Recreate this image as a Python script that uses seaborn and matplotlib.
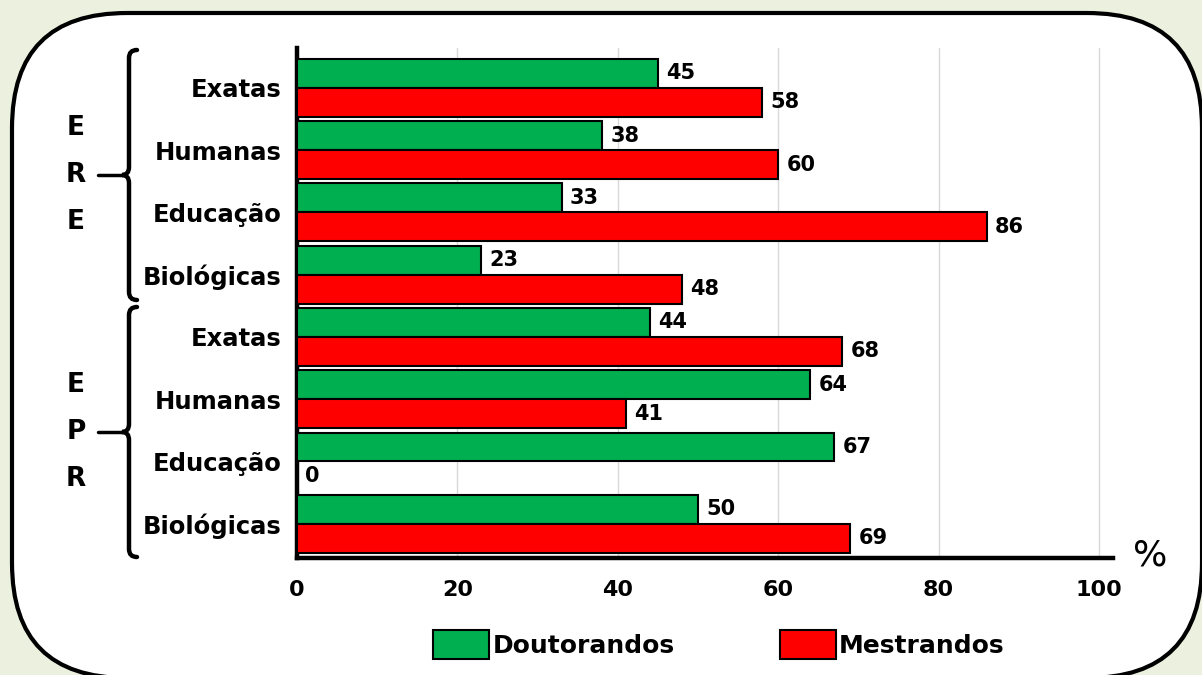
import numpy as np
import pandas as pd
import matplotlib
matplotlib.use("Agg")
import matplotlib.pyplot as plt
import seaborn as sns
from matplotlib.patches import FancyBboxPatch, PathPatch, Patch
from matplotlib.path import Path

# data
areas = ["Exatas", "Humanas", "Educação", "Biológicas",
         "Exatas", "Humanas", "Educação", "Biológicas"]
blocos = ["ERE"] * 4 + ["EPR"] * 4
doutorandos = [45, 38, 33, 23, 44, 64, 67, 50]
mestrandos = [58, 60, 86, 48, 68, 41, 0, 69]
grupos = ["Doutorandos", "Mestrandos"]
cores = {"Doutorandos": "#00b050", "Mestrandos": "#ff0000"}
xticks = [0, 20, 40, 60, 80, 100]

chaves = [f"{b} {a}" for b, a in zip(blocos, areas)]
df = pd.DataFrame({
    "chave": chaves * 2,
    "grupo": ["Doutorandos"] * 8 + ["Mestrandos"] * 8,
    "valor": doutorandos + mestrandos,
})

sns.set_style("white")
plt.rcParams["font.family"] = ["DejaVu Sans"]
for k in ["text.color", "axes.labelcolor", "xtick.color", "ytick.color"]:
    plt.rcParams[k] = "black"

bg = "#ebf1de"
fig = plt.figure(figsize=(12.02, 6.75), dpi=100, facecolor=bg)

# background layer in pixel coordinates
deco = fig.add_axes([0, 0, 1, 1], zorder=0)
deco.set_xlim(0, 1202)
deco.set_ylim(675, 0)
deco.axis("off")
box = FancyBboxPatch((12, 13), 1190, 665, boxstyle="round,pad=0,rounding_size=115",
                     facecolor="white", edgecolor="black", linewidth=3)
deco.add_patch(box)


def chave_brace(top, bot, x=129, curl=8, tip=7):
    mid = (top + bot) / 2
    verts = [(x + curl, top), (x, top), (x, top + curl),
             (x, mid - curl), (x, mid), (x - tip, mid),
             (x, mid), (x, mid + curl),
             (x, bot - curl), (x, bot), (x + curl, bot)]
    codes = [Path.MOVETO, Path.CURVE3, Path.CURVE3,
             Path.LINETO, Path.CURVE3, Path.CURVE3,
             Path.CURVE3, Path.CURVE3,
             Path.LINETO, Path.CURVE3, Path.CURVE3]
    deco.add_patch(PathPatch(Path(verts, codes), facecolor="none",
                             edgecolor="black", linewidth=3.2, capstyle="round"))
    deco.plot([98, x - tip], [mid, mid], color="black", lw=2.5)
    return mid


m1 = chave_brace(50, 300)
m2 = chave_brace(307, 557)
for m, letras in [(m1, "ERE"), (m2, "EPR")]:
    for i, l in enumerate(letras):
        deco.text(76, m + (i - 1) * 47, l, ha="center", va="center",
                  fontsize=19, fontweight="bold")

deco.text(1150, 556, "%", ha="center", va="center", fontsize=26)

# main chart
ax = fig.add_axes([297 / 1202, 117 / 675, 816 / 1202, 510 / 675], zorder=1)
ax.set_facecolor("none")
sns.barplot(data=df, x="valor", y="chave", hue="grupo", order=chaves,
            hue_order=grupos, palette=cores, saturation=1, orient="y", width=0.93,
            edgecolor="black", linewidth=1.5, legend=False, ax=ax, zorder=3)

for c in ax.containers:
    ax.bar_label(c, fmt="%d", padding=6, fontsize=15, fontweight="bold")

ax.set_xlim(0, 101.75)
ax.set_ylim(7.55, -0.64)
ax.set_xticks(xticks)
ax.set_xticklabels([str(t) for t in xticks], fontsize=16, fontweight="bold")
ax.set_yticks(range(len(areas)))
ax.set_yticklabels(areas, fontsize=17.5, fontweight="bold")
ax.set_xlabel("")
ax.set_ylabel("")
ax.grid(axis="x", color="#d9d9d9", linewidth=1, zorder=0)
ax.set_axisbelow(True)
for s in ["top", "right"]:
    ax.spines[s].set_visible(False)
for s in ["left", "bottom"]:
    ax.spines[s].set_linewidth(3.2)
    ax.spines[s].set_color("black")
ax.tick_params(axis="y", length=0, pad=11)
ax.tick_params(axis="x", length=7, width=3.5, direction="out", pad=9, color="black")

handles = [Patch(facecolor=cores[g], edgecolor="black", linewidth=1.5) for g in grupos]
fig.legend(handles, grupos, loc="center", bbox_to_anchor=(0.598, 0.045), ncol=2,
           frameon=False, prop={"size": 18, "weight": "bold"},
           handlelength=2.24, handleheight=1.4, handletextpad=0.12, columnspacing=4.2,
           borderpad=0, borderaxespad=0)

fig.savefig("out.png", dpi=100, facecolor=bg)
